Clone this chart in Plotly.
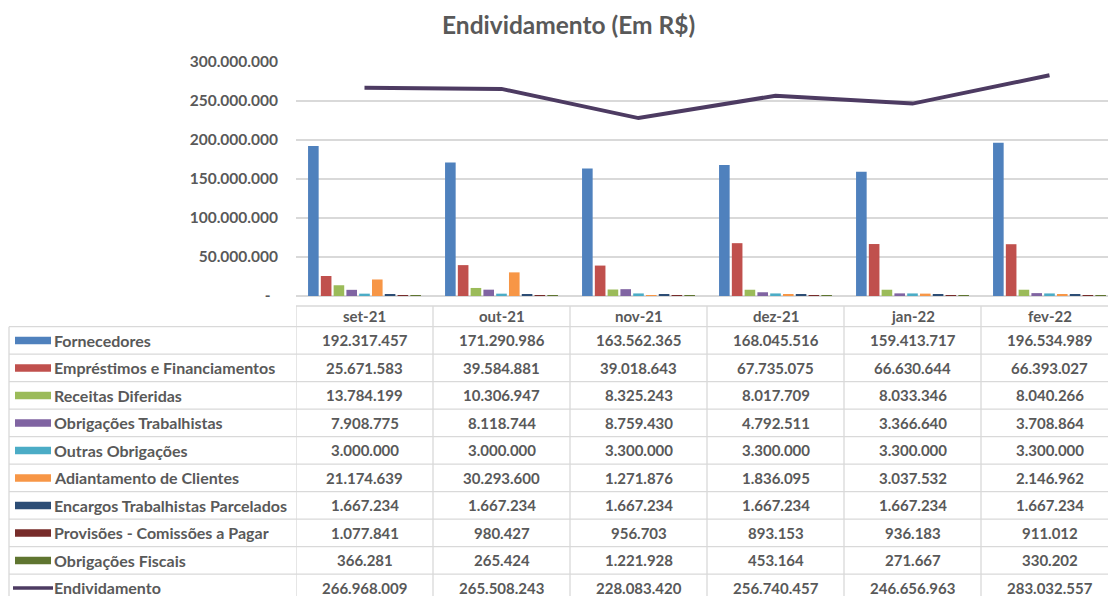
import plotly.graph_objects as go

W, H = 1108, 596

months = ["set-21", "out-21", "nov-21", "dez-21", "jan-22", "fev-22"]

series_names = [
    "Fornecedores",
    "Empréstimos e Financiamentos",
    "Receitas Diferidas",
    "Obrigações Trabalhistas",
    "Outras Obrigações",
    "Adiantamento de Clientes",
    "Encargos Trabalhistas Parcelados",
    "Provisões - Comissões a Pagar",
    "Obrigações Fiscais",
]
line_name = "Endividamento"

fornecedores = [192317457, 171290986, 163562365, 168045516, 159413717, 196534989]
emprestimos = [25671583, 39584881, 39018643, 67735075, 66630644, 66393027]
receitas = [13784199, 10306947, 8325243, 8017709, 8033346, 8040266]
obrig_trab = [7908775, 8118744, 8759430, 4792511, 3366640, 3708864]
outras = [3000000, 3000000, 3300000, 3300000, 3300000, 3300000]
adiantamento = [21174639, 30293600, 1271876, 1836095, 3037532, 2146962]
encargos = [1667234, 1667234, 1667234, 1667234, 1667234, 1667234]
provisoes = [1077841, 980427, 956703, 893153, 936183, 911012]
obrig_fiscais = [366281, 265424, 1221928, 453164, 271667, 330202]
endividamento = [266968009, 265508243, 228083420, 256740457, 246656963, 283032557]

bar_series = [fornecedores, emprestimos, receitas, obrig_trab, outras,
              adiantamento, encargos, provisoes, obrig_fiscais]

y_ticks = [0, 50000000, 100000000, 150000000, 200000000, 250000000, 300000000]

bar_colors = ["#4F81BD", "#C0504D", "#9BBB59", "#8064A2", "#4BACC6",
              "#F79646", "#2C4D75", "#772C2A", "#5F7530"]
line_color = "#4D3B62"
text_color = "#595959"
grid_color = "#D9D9D9"
FONT = "Lato"


def fmt(v):
    return "-\u00a0\u00a0" if v == 0 else f"{v:,}".replace(",", ".")


def xp(px):
    return px / W


def yp(py):
    return 1 - py / H


fig = go.Figure()
for name, vals, col in zip(series_names, bar_series, bar_colors):
    fig.add_trace(go.Bar(x=months, y=vals, name=name, marker_color=col,
                         marker_line_width=0))
fig.add_trace(go.Scatter(x=months, y=endividamento, name=line_name, mode="lines",
                         line=dict(color=line_color, width=4)))

# plot geometry (pixels)
plot_left, col_w = 296, 137
axis_y, top_y = 296, 62
x_hi = -0.5 + (W - plot_left) / col_w

fig.update_layout(
    width=W, height=H, autosize=False,
    margin=dict(l=0, r=0, t=0, b=0, pad=0, autoexpand=False),
    paper_bgcolor="white", plot_bgcolor="white",
    showlegend=False,
    barmode="group", bargap=0.16, bargroupgap=0.17,
    font=dict(family=FONT, color=text_color),
    xaxis=dict(domain=[xp(plot_left), 1], range=[-0.5, x_hi], automargin=False,
               showticklabels=False, showgrid=False, zeroline=False,
               showline=False, ticks=""),
    yaxis=dict(domain=[yp(axis_y), yp(top_y)], range=[0, 300000000], automargin=False,
               tickvals=y_ticks, ticktext=[fmt(v) for v in y_ticks],
               tickfont=dict(family=FONT, size=15.5, color=text_color, weight="bold"),
               showgrid=True, gridcolor=grid_color, gridwidth=1.5,
               zeroline=True, zerolinecolor=grid_color, zerolinewidth=1.5,
               showline=False, ticks="", ticklabelstandoff=17),
)

annotations = []
shapes = []

# title
annotations.append(dict(text="Endividamento (Em R$)", x=xp(568), y=yp(25),
                        xref="paper", yref="paper", showarrow=False,
                        xanchor="center", yanchor="middle",
                        font=dict(family=FONT, size=24.5, color=text_color, weight="bold")))

# table geometry
tbl_top = 306.0
hdr_bot = 326.7
row_h = 27.5
n_rows = len(series_names) + 1
tbl_left = 9

line_style = dict(color=grid_color, width=1.3)
# horizontal lines
shapes.append(dict(type="line", xref="paper", yref="paper",
                   x0=xp(plot_left), x1=1, y0=yp(tbl_top), y1=yp(tbl_top), line=line_style))
for r in range(n_rows + 1):
    yy = hdr_bot + r * row_h
    if yy > H:
        break
    shapes.append(dict(type="line", xref="paper", yref="paper",
                       x0=xp(tbl_left), x1=1, y0=yp(yy), y1=yp(yy), line=line_style))
# vertical lines
shapes.append(dict(type="line", xref="paper", yref="paper",
                   x0=xp(tbl_left), x1=xp(tbl_left), y0=yp(hdr_bot), y1=0, line=line_style))
for k in range(len(months) + 1):
    shapes.append(dict(type="line", xref="x", yref="paper",
                       x0=k - 0.5, x1=k - 0.5, y0=yp(tbl_top), y1=0, line=line_style))

num_font = dict(family=FONT, size=15, color=text_color, weight="bold")
lbl_font = dict(family=FONT, size=16, color=text_color, weight="bold")

# header
for i, m in enumerate(months):
    annotations.append(dict(text=m, x=i, y=yp((tbl_top + hdr_bot) / 2),
                            xref="x", yref="paper", showarrow=False,
                            xanchor="center", yanchor="middle", font=num_font))

all_names = series_names + [line_name]
all_vals = bar_series + [endividamento]
for r, (name, vals) in enumerate(zip(all_names, all_vals)):
    cy = hdr_bot + row_h * (r + 0.5)
    annotations.append(dict(text=name, x=xp(52), y=yp(cy), xref="paper", yref="paper",
                            showarrow=False, xanchor="left", yanchor="middle",
                            font=lbl_font))
    for i, v in enumerate(vals):
        annotations.append(dict(text=fmt(v), x=i, y=yp(cy), xref="x", yref="paper",
                                showarrow=False, xanchor="center", yanchor="middle",
                                font=num_font))
    # legend keys
    if r < len(series_names):
        shapes.append(dict(type="rect", xref="paper", yref="paper",
                           x0=xp(15), x1=xp(51), y0=yp(cy - 3.8), y1=yp(cy + 3.8),
                           fillcolor=bar_colors[r], line=dict(width=0)))
    else:
        shapes.append(dict(type="line", xref="paper", yref="paper",
                           x0=xp(13), x1=xp(53), y0=yp(cy), y1=yp(cy),
                           line=dict(color=line_color, width=3.5)))

fig.update_layout(annotations=annotations, shapes=shapes)

fig.write_html("out.html", config={"displayModeBar": False, "responsive": False},
               post_script="document.body.style.margin='0';document.body.style.overflow='hidden';")
